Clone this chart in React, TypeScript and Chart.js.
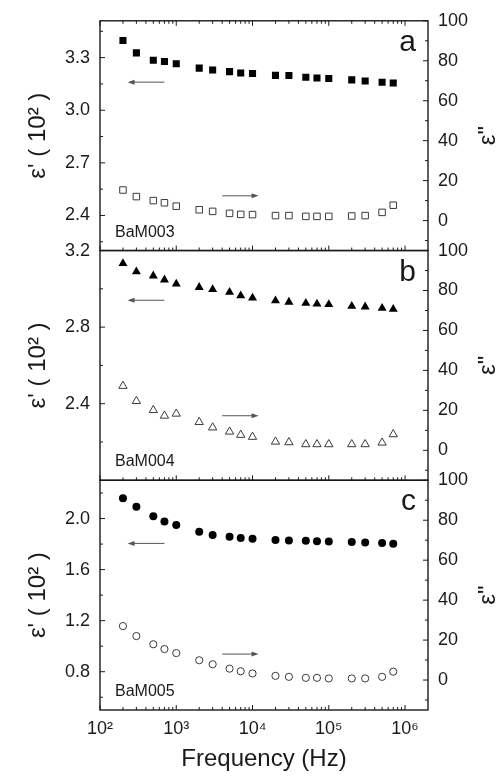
import React, { useEffect, useRef } from 'react';
import { Chart, registerables } from 'chart.js';

Chart.register(...registerables);

// ---------- data ----------
const FREQ = [200, 300, 500, 700, 1000, 2000, 3000, 5000, 7000, 10000, 20000, 30000, 50000, 70000, 100000, 200000, 300000, 500000, 700000];

const EPS1_BAM003 = [3.398, 3.327, 3.285, 3.278, 3.265, 3.240, 3.229, 3.220, 3.212, 3.209, 3.199, 3.198, 3.188, 3.184, 3.181, 3.173, 3.167, 3.160, 3.155];
const EPS2_BAM003 = [15.3, 12.0, 10.0, 8.9, 7.2, 5.4, 4.6, 3.6, 3.1, 3.0, 2.5, 2.5, 2.1, 2.1, 2.1, 2.3, 2.5, 4.1, 7.7];

const EPS1_BAM004 = [3.133, 3.090, 3.068, 3.047, 3.026, 3.008, 2.997, 2.982, 2.964, 2.952, 2.938, 2.931, 2.925, 2.921, 2.918, 2.909, 2.906, 2.899, 2.894];
const EPS2_BAM004 = [32.2, 24.6, 20.1, 17.3, 18.3, 14.1, 11.4, 9.3, 7.7, 6.7, 4.3, 4.0, 3.0, 3.0, 3.0, 3.0, 3.0, 3.8, 8.0];

const EPS1_BAM005 = [2.160, 2.093, 2.018, 1.977, 1.950, 1.896, 1.872, 1.857, 1.847, 1.841, 1.831, 1.829, 1.826, 1.823, 1.821, 1.816, 1.813, 1.808, 1.802];
const EPS2_BAM005 = [27.0, 22.0, 17.9, 15.5, 13.5, 9.9, 7.9, 5.7, 4.4, 3.3, 2.1, 1.6, 1.1, 1.1, 0.8, 0.8, 0.8, 1.6, 4.2];

// ---------- ticks ----------
const X_MAJOR = [1e2, 1e3, 1e4, 1e5, 1e6];
const X_MINOR_MULT = [2, 3, 4, 5, 6, 7, 8, 9];
const X_MINOR_DECADES = [1e2, 1e3, 1e4, 1e5];

const LEFT_A_MAJOR = [2.4, 2.7, 3.0, 3.3];
const LEFT_A_MINOR = [2.25, 2.55, 2.85, 3.15, 3.45];
const LEFT_B_MAJOR = [2.4, 2.8, 3.2];
const LEFT_B_MINOR = [2.2, 2.6, 3.0];
const LEFT_C_MAJOR = [0.8, 1.2, 1.6, 2.0];
const LEFT_C_MINOR = [0.6, 1.0, 1.4, 1.8, 2.2];
const RIGHT_MAJOR = [0, 20, 40, 60, 80, 100];
const RIGHT_MINOR = [-10, 10, 30, 50, 70, 90];

const SUP: Record<number, string> = { 2: '²', 3: '³', 4: '⁴', 5: '⁵', 6: '⁶' };

const FONT = '"Liberation Sans", Arial, Helvetica, sans-serif';
const INK = '#1a1a1a';
const OPEN_INK = '#3a3a3a';

type Panel = {
  left: string; right: string; letter: string; sample: string;
  leftMajor: number[]; leftMinor: number[];
  leftArrowY: number; rightArrowY: number;
};

const PANELS: Panel[] = [
  { left: 'yA', right: 'rA', letter: 'a', sample: 'BaM003', leftMajor: LEFT_A_MAJOR, leftMinor: LEFT_A_MINOR, leftArrowY: 69.3, rightArrowY: 12.4 },
  { left: 'yB', right: 'rB', letter: 'b', sample: 'BaM004', leftMajor: LEFT_B_MAJOR, leftMinor: LEFT_B_MINOR, leftArrowY: 75.1, rightArrowY: 17.3 },
  { left: 'yC', right: 'rC', letter: 'c', sample: 'BaM005', leftMajor: LEFT_C_MAJOR, leftMinor: LEFT_C_MINOR, leftArrowY: 68.4, rightArrowY: 13.0 },
];

function drawArrow(ctx: CanvasRenderingContext2D, x1: number, y: number, x2: number) {
  const dir = Math.sign(x2 - x1);
  ctx.save();
  ctx.strokeStyle = '#555';
  ctx.fillStyle = '#555';
  ctx.lineWidth = 1;
  ctx.beginPath();
  ctx.moveTo(x1, y);
  ctx.lineTo(x2 - dir * 5, y);
  ctx.stroke();
  ctx.beginPath();
  ctx.moveTo(x2, y);
  ctx.lineTo(x2 - dir * 7, y - 2.5);
  ctx.lineTo(x2 - dir * 7, y + 2.5);
  ctx.closePath();
  ctx.fill();
  ctx.restore();
}

const decorPlugin = {
  id: 'decor',
  afterDatasetsDraw(chart: any) {
    const { ctx, chartArea } = chart;
    const xs = chart.scales.x;
    const left = chartArea.left;
    const right = chartArea.right;
    const line = (x1: number, y1: number, x2: number, y2: number) => {
      ctx.beginPath();
      ctx.moveTo(x1, y1);
      ctx.lineTo(x2, y2);
      ctx.stroke();
    };
    ctx.save();
    PANELS.forEach((p, i) => {
      const yl = chart.scales[p.left];
      const yr = chart.scales[p.right];
      const top = yl.top;
      const bottom = yl.bottom;

      ctx.strokeStyle = INK;
      ctx.lineWidth = 1.4;
      ctx.strokeRect(left, top, right - left, bottom - top);

      ctx.lineWidth = 1;
      X_MAJOR.forEach((v) => {
        const px = xs.getPixelForValue(v);
        line(px, bottom, px, bottom - 5);
        if (i === 0) line(px, top, px, top + 5);
      });
      X_MINOR_DECADES.forEach((d) => {
        X_MINOR_MULT.forEach((m) => {
          const px = xs.getPixelForValue(d * m);
          line(px, bottom, px, bottom - 3);
          if (i === 0) line(px, top, px, top + 3);
        });
      });
      p.leftMajor.forEach((v) => { const py = yl.getPixelForValue(v); line(left, py, left + 5, py); });
      p.leftMinor.forEach((v) => { const py = yl.getPixelForValue(v); line(left, py, left + 3, py); });
      RIGHT_MAJOR.forEach((v) => { const py = yr.getPixelForValue(v); line(right, py, right - 5, py); });
      RIGHT_MINOR.forEach((v) => { const py = yr.getPixelForValue(v); line(right, py, right - 3, py); });

      ctx.fillStyle = INK;
      ctx.font = `30px ${FONT}`;
      ctx.textAlign = 'right';
      ctx.textBaseline = 'alphabetic';
      ctx.fillText(p.letter, right - 12, top + 30);

      ctx.font = `16px ${FONT}`;
      ctx.textAlign = 'left';
      ctx.fillText(p.sample, left + 15, bottom - 14);

      drawArrow(ctx, xs.getPixelForValue(700), yr.getPixelForValue(p.leftArrowY), xs.getPixelForValue(230));
      drawArrow(ctx, xs.getPixelForValue(4000), yr.getPixelForValue(p.rightArrowY), xs.getPixelForValue(12000));

      ctx.save();
      ctx.translate(488, (top + bottom) / 2);
      ctx.rotate(-Math.PI / 2);
      ctx.font = `24px ${FONT}`;
      ctx.textAlign = 'center';
      ctx.textBaseline = 'middle';
      ctx.fillStyle = INK;
      ctx.fillText('ε"', 0, 0);
      ctx.restore();
    });
    ctx.restore();
  },
};

function leftScale(min: number, max: number, major: number[], weight: number) {
  return {
    type: 'linear', position: 'left', stack: 'left', stackWeight: 1, weight, min, max,
    afterFit: (s: any) => { s.width = 100; },
    afterBuildTicks: (s: any) => { s.ticks = major.map((v) => ({ value: v })); },
    grid: { display: false, drawTicks: false },
    border: { display: false },
    ticks: {
      autoSkip: false, padding: 10, color: INK, font: { family: FONT, size: 18 },
      callback: (v: any) => Number(v).toFixed(1),
    },
    title: {
      display: true, text: "ε' ( 10² )", color: INK,
      font: { family: FONT, size: 24 }, padding: { top: 24, bottom: 0 },
    },
  };
}

function rightScale(weight: number) {
  return {
    type: 'linear', position: 'right', stack: 'right', stackWeight: 1, weight, min: -15, max: 100,
    afterFit: (s: any) => { s.width = 74; },
    afterBuildTicks: (s: any) => { s.ticks = RIGHT_MAJOR.map((v) => ({ value: v })); },
    grid: { display: false, drawTicks: false },
    border: { display: false },
    ticks: {
      autoSkip: false, padding: 10, color: INK, font: { family: FONT, size: 18 },
      callback: (v: any) => String(v),
    },
  };
}

function pts(values: number[]) {
  return FREQ.map((f, i) => ({ x: f, y: values[i] }));
}

export default function App() {
  const ref = useRef<HTMLCanvasElement>(null);
  useEffect(() => {
    if (!ref.current) return;
    const filled = (style: string, r: number) => ({
      pointStyle: style, pointRadius: r, backgroundColor: '#000', borderColor: '#000', borderWidth: 0, showLine: false,
    });
    const open = (style: string, r: number) => ({
      pointStyle: style, pointRadius: r, backgroundColor: '#fff', borderColor: OPEN_INK, borderWidth: 1, showLine: false,
    });
    const chart = new Chart(ref.current, {
      type: 'scatter',
      data: {
        datasets: [
          { label: "ε' BaM003", data: pts(EPS1_BAM003), yAxisID: 'yA', ...filled('rect', 5) },
          { label: 'ε" BaM003', data: pts(EPS2_BAM003), yAxisID: 'rA', ...open('rect', 4.6) },
          { label: "ε' BaM004", data: pts(EPS1_BAM004), yAxisID: 'yB', ...filled('triangle', 5.2) },
          { label: 'ε" BaM004', data: pts(EPS2_BAM004), yAxisID: 'rB', ...open('triangle', 4.8) },
          { label: "ε' BaM005", data: pts(EPS1_BAM005), yAxisID: 'yC', ...filled('circle', 4) },
          { label: 'ε" BaM005', data: pts(EPS2_BAM005), yAxisID: 'rC', ...open('circle', 3.6) },
        ] as any,
      },
      options: {
        responsive: false,
        animation: false,
        events: [],
        layout: { padding: { top: 15, left: 0, right: 0, bottom: 0 } },
        plugins: { legend: { display: false }, tooltip: { enabled: false } },
        scales: {
          x: {
            type: 'logarithmic', position: 'bottom', min: 100, max: 2e6,
            afterFit: (s: any) => { s.height = 66; },
            afterBuildTicks: (s: any) => { s.ticks = X_MAJOR.map((v) => ({ value: v })); },
            grid: { display: false, drawTicks: false },
            border: { display: false },
            ticks: {
              autoSkip: false, maxRotation: 0, padding: 8, color: INK, font: { family: FONT, size: 18 },
              callback: (v: any) => '10' + SUP[Math.round(Math.log10(Number(v)))],
            },
            title: {
              display: true, text: 'Frequency (Hz)', color: INK,
              font: { family: FONT, size: 24 }, padding: { top: 0, bottom: 2 },
            },
          },
          yA: leftScale(2.2, 3.51, LEFT_A_MAJOR, 3),
          yB: leftScale(2.0, 3.2, LEFT_B_MAJOR, 2),
          yC: leftScale(0.5, 2.3, LEFT_C_MAJOR, 1),
          rA: rightScale(1),
          rB: rightScale(2),
          rC: rightScale(3),
        } as any,
      },
      plugins: [decorPlugin],
    } as any);
    return () => chart.destroy();
  }, []);
  return (
    <div style={{ position: 'absolute', left: 0, top: 0, width: 502, height: 776, background: '#fff' }}>
      <canvas ref={ref} width={502} height={776} style={{ display: 'block', width: 502, height: 776 }} />
    </div>
  );
}
